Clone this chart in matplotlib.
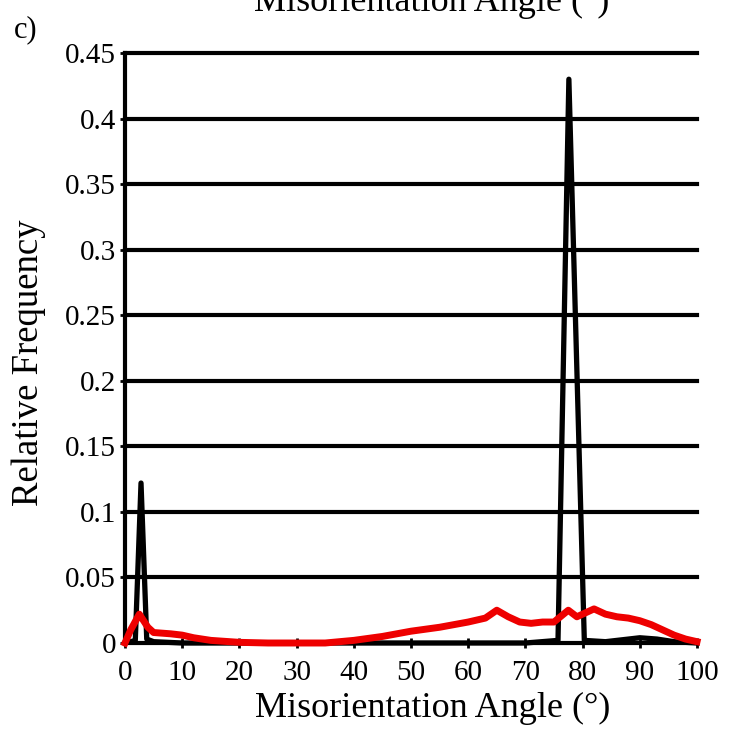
import matplotlib
matplotlib.use("Agg")
import matplotlib.pyplot as plt

plt.rcParams['font.family'] = ['Liberation Serif', 'DejaVu Serif']

black_x = [0, 1, 1.8, 2.8, 3.8, 5, 10, 20, 40, 60, 70, 75.7, 77.6, 80.3, 84, 88, 90, 93, 96, 100]
black_y = [0, 0.001, 0.002, 0.122, 0.003, 0.001, 0.0, 0.0, 0.0, 0.0, 0.0, 0.002, 0.43, 0.002, 0.001, 0.003, 0.004, 0.003, 0.001, 0.0]

red_x = [0, 1, 2.5, 4, 5, 8, 10, 12, 15, 20, 25, 35, 40, 45, 50, 55, 60, 63, 65, 67, 69, 71, 73, 75, 77.5, 79, 80, 82, 84, 86, 88, 90, 92, 94, 96, 98, 100]
red_y = [0, 0.01, 0.022, 0.012, 0.008, 0.007, 0.006, 0.004, 0.002, 0.0005, 0, 0, 0.002, 0.005, 0.009, 0.012, 0.016, 0.019, 0.025, 0.02, 0.016, 0.015, 0.016, 0.016, 0.025, 0.02, 0.022, 0.026, 0.022, 0.02, 0.019, 0.017, 0.014, 0.01, 0.006, 0.003, 0.001]

yticks = [0, 0.05, 0.1, 0.15, 0.2, 0.25, 0.3, 0.35, 0.4, 0.45]
ytick_labels = ['0', '0.05', '0.1', '0.15', '0.2', '0.25', '0.3', '0.35', '0.4', '0.45']
xticks = list(range(0, 101, 10))

fig = plt.figure(figsize=(7.32, 7.31), dpi=100)
ax = fig.add_axes([125/732, 88/731, 572/732, 590/731])

for yv in yticks[1:]:
    ax.axhline(yv, color='black', lw=3, zorder=1, clip_on=False)

ax.plot(black_x, black_y, color='black', lw=3.8, clip_on=False, zorder=3)
ax.plot(red_x, red_y, color='#ee0000', lw=5, clip_on=False, zorder=4)

ax.set_xlim(0, 100)
ax.set_ylim(0, 0.45)
ax.set_xticks(xticks)
ax.set_yticks(yticks)
ax.set_yticklabels(ytick_labels)
for s in ['top', 'right']:
    ax.spines[s].set_visible(False)
for s in ['left', 'bottom']:
    ax.spines[s].set_linewidth(3)
ax.tick_params(axis='both', direction='inout', length=7, width=2, labelsize=21)
ax.tick_params(axis='y', pad=3)
ax.tick_params(axis='x', pad=9)

fig.text(433/732, 1 - 717/731, 'Misorientation Angle (°)', ha='center', va='baseline', fontsize=26)
fig.text(29/732, 368/731, 'Relative Frequency', ha='center', va='center', rotation=90, fontsize=26.5)
fig.text(432/732, 1 - 11/731, 'Misorientation Angle (°)', ha='center', va='baseline', fontsize=26)
fig.text(14/732, 1 - 37/731, 'c)', ha='left', va='baseline', fontsize=22)

fig.savefig('out.png', dpi=100)
